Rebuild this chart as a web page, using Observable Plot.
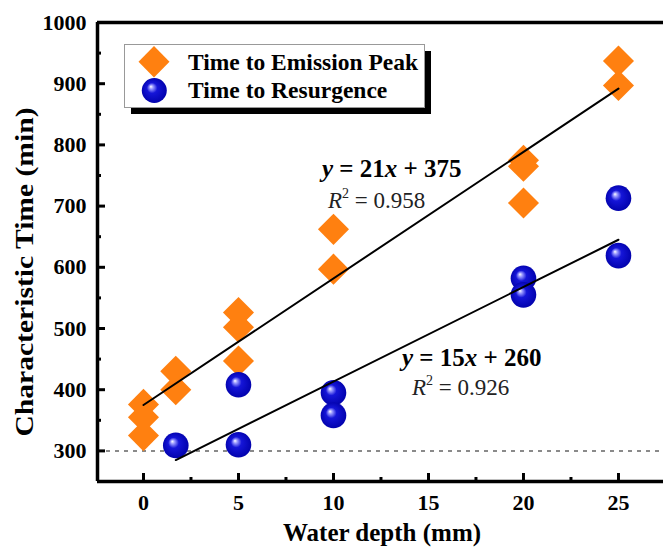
<!DOCTYPE html>
<html><head><meta charset="utf-8">
<script src="https://cdn.jsdelivr.net/npm/d3@7"></script>
<script src="https://cdn.jsdelivr.net/npm/@observablehq/plot@0.6"></script>
<style>body{margin:0;background:#fff;overflow:hidden}</style>
</head><body><div id="chart"></div>
<script>
// Data
const peakDepth = [0, 0, 0, 1.7, 1.7, 5, 5, 5, 10, 10, 20, 20, 20, 25, 25];
const peakTime  = [376, 355, 325, 430, 400, 526, 502, 447, 662, 597, 775, 765, 705, 937, 897];
const resDepth  = [1.7, 5, 5, 10, 10, 20, 20, 25, 25];
const resTime   = [309, 310, 408, 395, 358, 582, 555, 713, 619];
const peakFitDepth = [0, 25];
const peakFitTime  = [375, 892];
const resFitDepth  = [1.7, 25];
const resFitTime   = [285, 645];
const refTime = [300];
const xTicks = [0, 5, 10, 15, 20, 25];
const xMinor = [2.5, 7.5, 12.5, 17.5, 22.5];
const yTicks = [300, 400, 500, 600, 700, 800, 900, 1000];
const yMinor = [350, 450, 550, 650, 750, 850, 950];
const seriesNames = ["Time to Emission Peak", "Time to Resurgence"];
const eqPeak = {x: 9.42, y: 747, coef: "21", icpt: "375", r2: "0.958", rx: 9.74, ry: 696};
const eqRes  = {x: 13.63, y: 438, coef: "15", icpt: "260", r2: "0.926", rx: 14.16, ry: 390.5};

const peak = peakDepth.map((d, i) => ({depth: d, time: peakTime[i]}));
const res = resDepth.map((d, i) => ({depth: d, time: resTime[i]}));
const peakFit = peakFitDepth.map((d, i) => ({depth: d, time: peakFitTime[i]}));
const resFit = resFitDepth.map((d, i) => ({depth: d, time: resFitTime[i]}));

const FONT = "'Liberation Serif', 'Times New Roman', serif";
const ORANGE = "#ff8010";
const xDomain = [-2.42, 27.37];
const yDomain = [250, 1000];

const plot = Plot.plot({
  width: 663, height: 547,
  marginLeft: 97, marginRight: 0, marginTop: 22, marginBottom: 66,
  style: {fontFamily: FONT, background: "white", color: "black"},
  x: {domain: xDomain},
  y: {domain: yDomain},
  marks: [
    Plot.ruleY(refTime, {stroke: "#8a8a8a", strokeWidth: 2, strokeDasharray: "4,5"}),
    Plot.dot(peak, {x: "depth", y: "time", symbol: "diamond2", r: 14, fill: ORANGE, stroke: "none"}),
    Plot.dot(res, {x: "depth", y: "time", r: 12.8, fill: "url(#ballGrad)", stroke: "none"}),
    Plot.line(peakFit, {x: "depth", y: "time", stroke: "black", strokeWidth: 2}),
    Plot.line(resFit, {x: "depth", y: "time", stroke: "black", strokeWidth: 2}),
    Plot.axisY(yTicks, {anchor: "left", tickSize: -8, tickPadding: 19, strokeWidth: 3, fontSize: 22, fontWeight: "bold", fontFamily: FONT, tickFormat: d => String(d), label: null}),
    Plot.axisY(yMinor, {anchor: "left", tickSize: -4, tickFormat: () => "", strokeWidth: 3, label: null}),
    Plot.axisX(xTicks, {anchor: "bottom", tickSize: -8, tickPadding: 21, strokeWidth: 3, fontSize: 22, fontWeight: "bold", fontFamily: FONT, tickFormat: d => String(d), label: null}),
    Plot.axisX(xMinor, {anchor: "bottom", tickSize: -4, tickFormat: () => "", strokeWidth: 3, label: null}),
    Plot.ruleX([xDomain[0]], {stroke: "black", strokeWidth: 3.5}),
    Plot.ruleY(yDomain, {stroke: "black", strokeWidth: 3.5})
  ]
});

const svg = d3.select(plot);
const defs = svg.insert("defs", ":first-child");
const g = defs.append("radialGradient").attr("id", "ballGrad")
  .attr("cx", "0.5").attr("cy", "0.5").attr("r", "0.55").attr("fx", "0.36").attr("fy", "0.34");
g.append("stop").attr("offset", "0%").attr("stop-color", "#ffffff");
g.append("stop").attr("offset", "14%").attr("stop-color", "#9a9aff");
g.append("stop").attr("offset", "38%").attr("stop-color", "#1515d8");
g.append("stop").attr("offset", "100%").attr("stop-color", "#0000a8");

const sx = plot.scale("x"), sy = plot.scale("y");

// Regression equations
function equation(e) {
  const t = svg.append("text").attr("x", sx.apply(e.x)).attr("y", sy.apply(e.y)).attr("text-anchor", "start")
    .attr("font-family", FONT).attr("font-size", 25).attr("font-weight", "bold").attr("fill", "black");
  t.append("tspan").attr("font-style", "italic").text("y");
  t.append("tspan").text(" = " + e.coef);
  t.append("tspan").attr("font-style", "italic").text("x");
  t.append("tspan").text(" + " + e.icpt);
  const r = svg.append("text").attr("x", sx.apply(e.rx)).attr("y", sy.apply(e.ry)).attr("text-anchor", "start")
    .attr("font-family", FONT).attr("font-size", 23).attr("fill", "#222");
  r.append("tspan").attr("font-style", "italic").text("R");
  r.append("tspan").attr("font-size", 14).attr("dy", -10).text("2");
  r.append("tspan").attr("dy", 10).text(" = " + e.r2);
}
equation(eqPeak);
equation(eqRes);

// Legend
const lg = svg.append("g");
lg.append("rect").attr("x", 131).attr("y", 51).attr("width", 300).attr("height", 63).attr("fill", "black");
lg.append("rect").attr("x", 124.5).attr("y", 44.5).attr("width", 300).attr("height", 63)
  .attr("fill", "white").attr("stroke", "#999").attr("stroke-width", 1);
lg.append("path").attr("d", "M154,46 L169.5,61.7 L154,77.4 L138.5,61.7 Z").attr("fill", ORANGE);
lg.append("circle").attr("cx", 154.3).attr("cy", 90.5).attr("r", 12.5).attr("fill", "url(#ballGrad)");
lg.selectAll("text.leg").data(seriesNames).join("text").attr("class", "leg")
  .attr("x", 188).attr("y", (d, i) => i === 0 ? 69.5 : 98).attr("text-anchor", "start")
  .attr("font-family", FONT).attr("font-size", 23.5).attr("font-weight", "bold").attr("fill", "black")
  .text(d => d);

// Axis titles
svg.append("text").attr("transform", "translate(33,272) rotate(-90)")
  .attr("text-anchor", "middle").attr("font-family", FONT).attr("font-size", 25).attr("font-weight", "bold")
  .attr("textLength", 329).attr("lengthAdjust", "spacingAndGlyphs")
  .text("Characteristic Time (min)");
svg.append("text").attr("x", 382).attr("y", 541)
  .attr("text-anchor", "middle").attr("font-family", FONT).attr("font-size", 25).attr("font-weight", "bold")
  .text("Water depth (mm)");

document.getElementById("chart").appendChild(plot);
</script>
</body></html>
